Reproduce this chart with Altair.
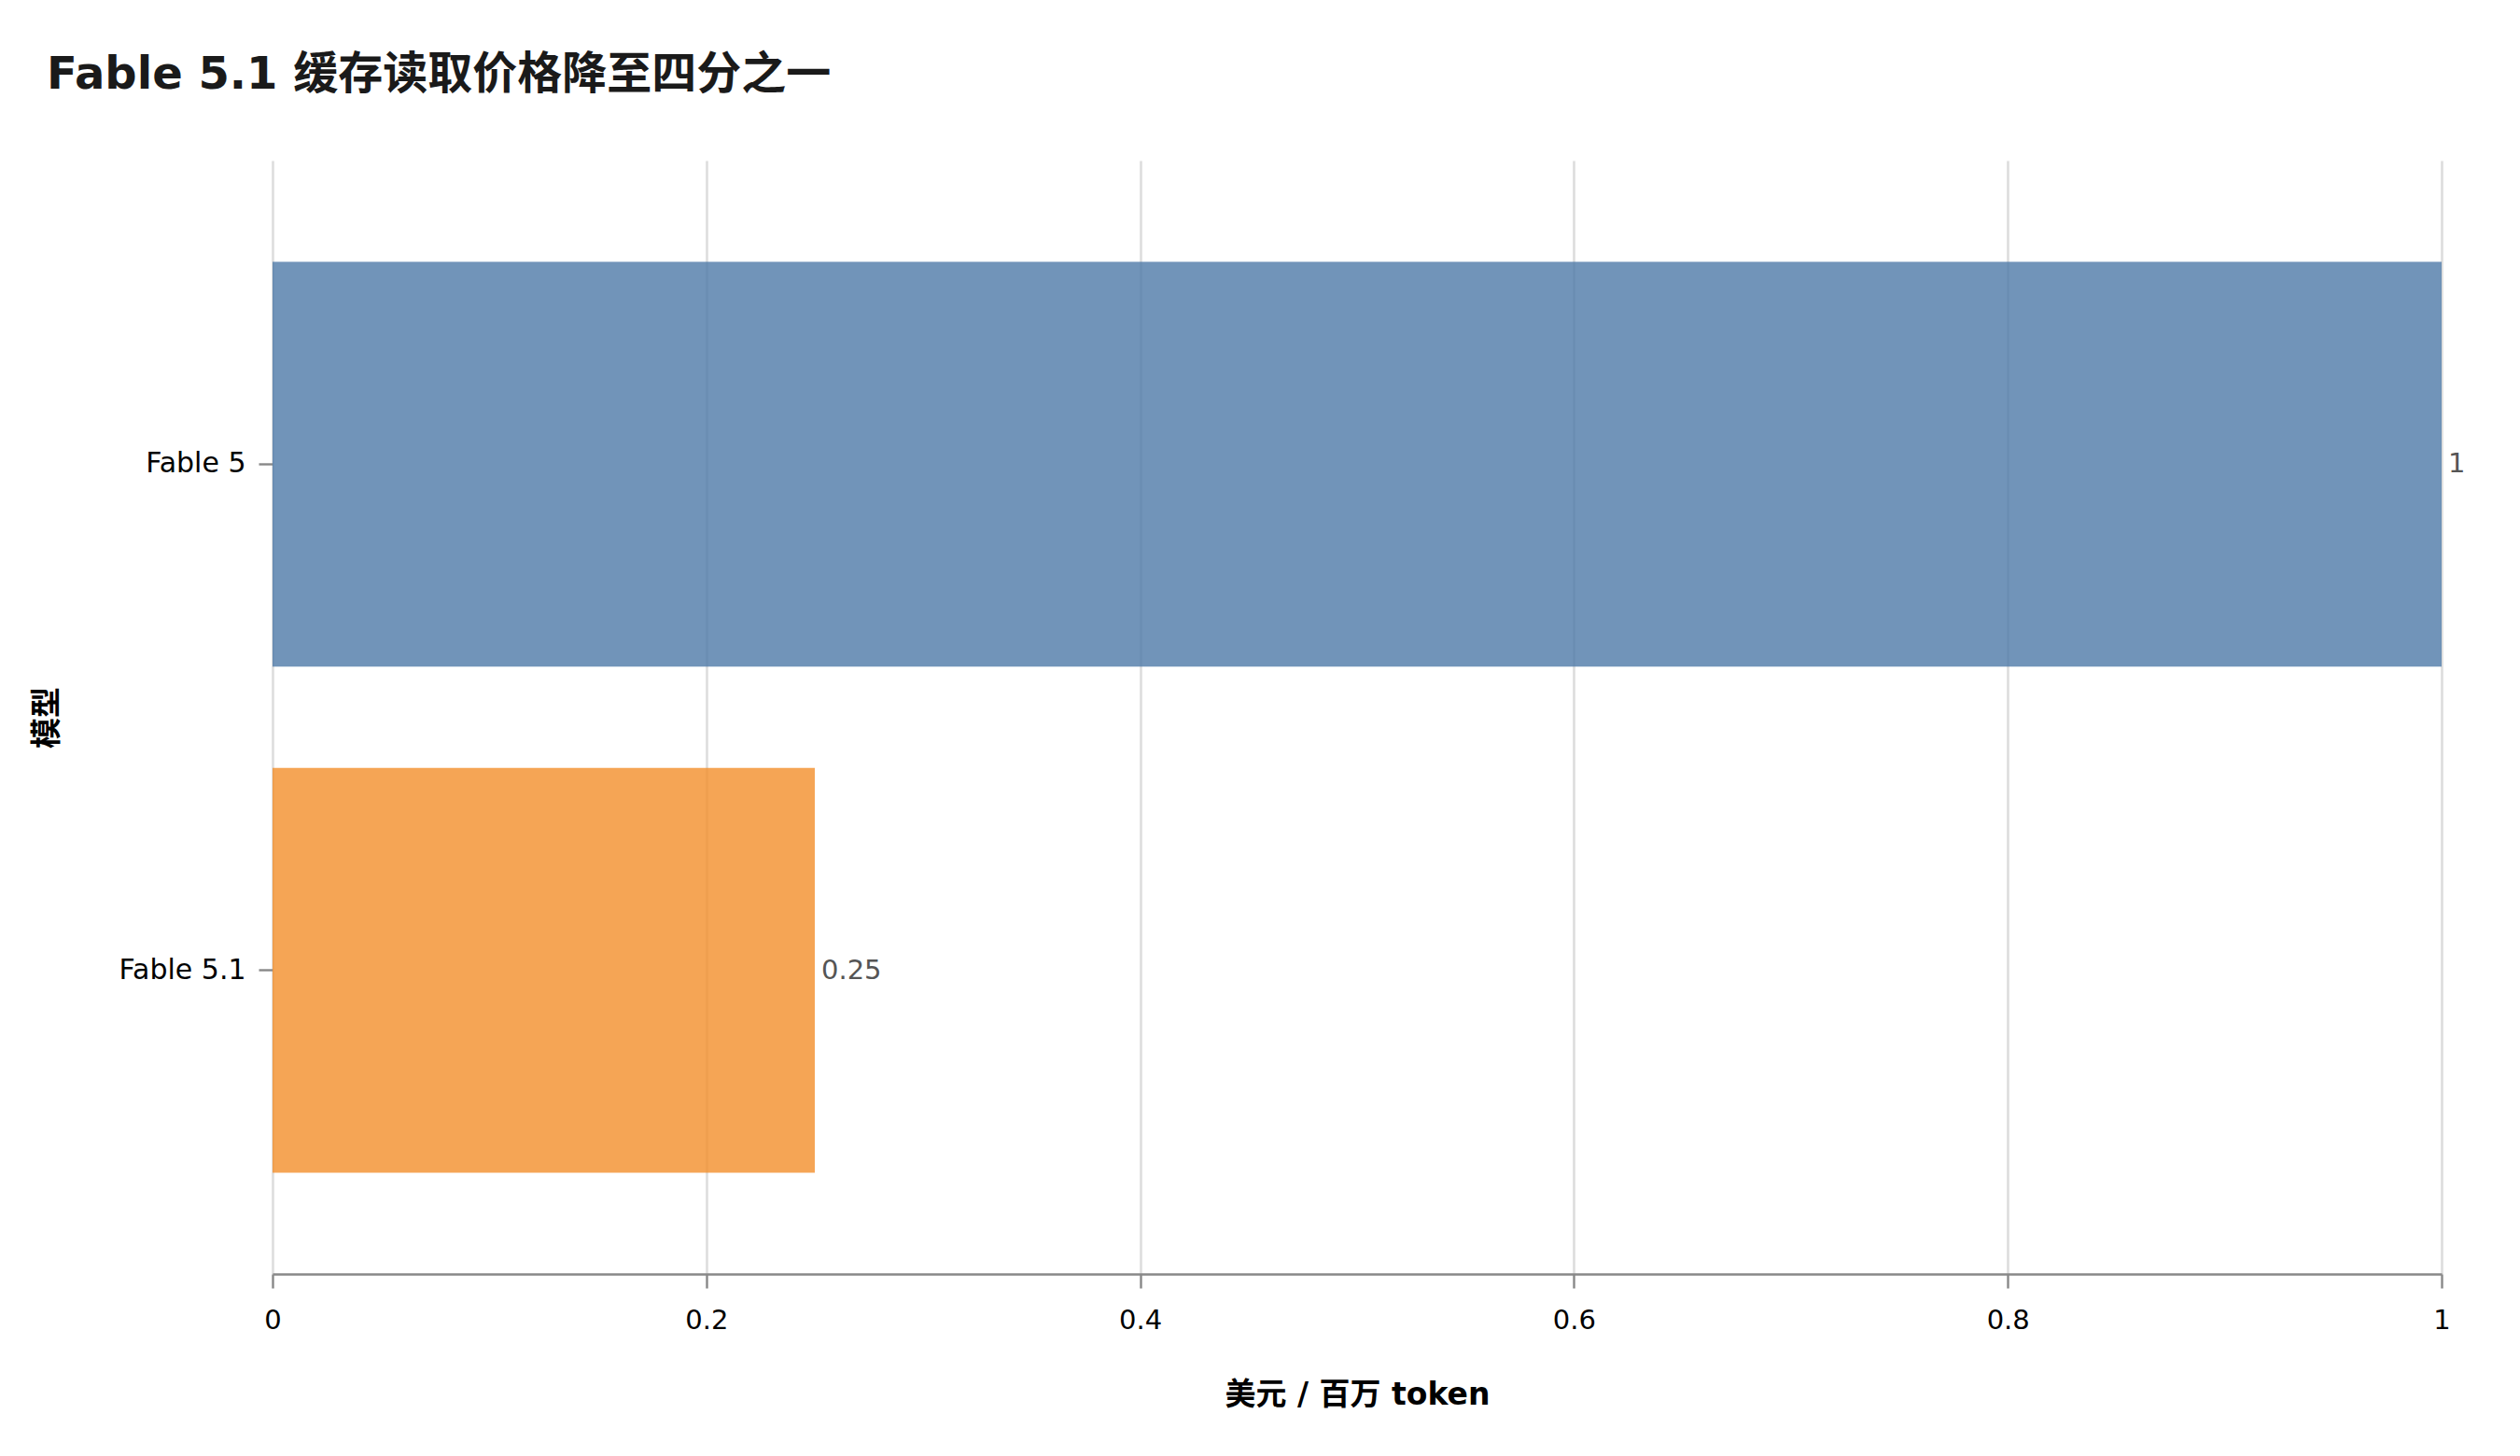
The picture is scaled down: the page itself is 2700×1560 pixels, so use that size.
import altair as alt
import pandas as pd

models = ["Fable 5", "Fable 5.1"]
prices = [1.0, 0.25]
bar_colors = ["#4e79a7", "#f28e2b"]
x_ticks = [0, 0.2, 0.4, 0.6, 0.8, 1]

title_text = "Fable 5.1 缓存读取价格降至四分之一"
x_title = "美元 / 百万 token"
y_title = "模型"

df = pd.DataFrame({"model": models, "price": prices})

FONT = "DejaVu Sans, Noto Sans CJK SC, sans-serif"

y_enc = alt.Y(
    "model:N",
    sort=models,
    title=y_title,
    scale=alt.Scale(paddingInner=0.2, paddingOuter=0.2),
    axis=alt.Axis(
        domain=False,
        grid=False,
        ticks=True,
        tickSize=15,
        tickWidth=2.4,
        tickColor="#888888",
        labelFont=FONT,
        labelFontSize=30,
        labelColor="#000000",
        labelPadding=14,
        titleFont=FONT,
        titleFontSize=33,
        titleFontWeight="bold",
        titleColor="#000000",
        titlePadding=60,
    ),
)

x_enc = alt.X(
    "price:Q",
    title=x_title,
    scale=alt.Scale(domain=[0, 1], nice=False),
    axis=alt.Axis(
        values=x_ticks,
        format="~g",
        labelFlush=False,
        domain=True,
        domainColor="#888888",
        domainWidth=2.4,
        grid=True,
        gridColor="#dddddd",
        gridWidth=2.6,
        ticks=True,
        tickSize=15,
        tickWidth=2.4,
        tickColor="#888888",
        labelFont=FONT,
        labelFontSize=29,
        labelColor="#000000",
        labelPadding=20,
        titleFont=FONT,
        titleFontSize=33,
        titleFontWeight="bold",
        titleColor="#000000",
        titlePadding=49,
    ),
)

bars = alt.Chart(df).mark_bar(opacity=0.8).encode(
    x=x_enc,
    y=y_enc,
    color=alt.Color("model:N", scale=alt.Scale(domain=models, range=bar_colors), legend=None),
)

labels = alt.Chart(df).mark_text(
    align="left", baseline="middle", dx=7, font=FONT, fontSize=29, color="#555555"
).encode(
    x=alt.X("price:Q"),
    y=alt.Y("model:N", sort=models),
    text=alt.Text("price:Q", format="~g"),
)

chart = (
    alt.layer(bars, labels)
    .properties(
        width=2324,
        height=1193,
        title=alt.TitleParams(
            text=title_text,
            anchor="start",
            frame="group",
            font=FONT,
            fontSize=48,
            fontWeight="bold",
            color="#1a1a1a",
            baseline="alphabetic",
            offset=29,
            dx=-242,
        ),
        autosize=alt.AutoSizeParams(type="none"),
        padding={"left": 284, "top": 164, "right": 60, "bottom": 170},
    )
    .configure(background="white", view={"stroke": "transparent", "strokeWidth": 0})
)

chart.save("out.html", embed_options={"renderer": "svg", "actions": False})
